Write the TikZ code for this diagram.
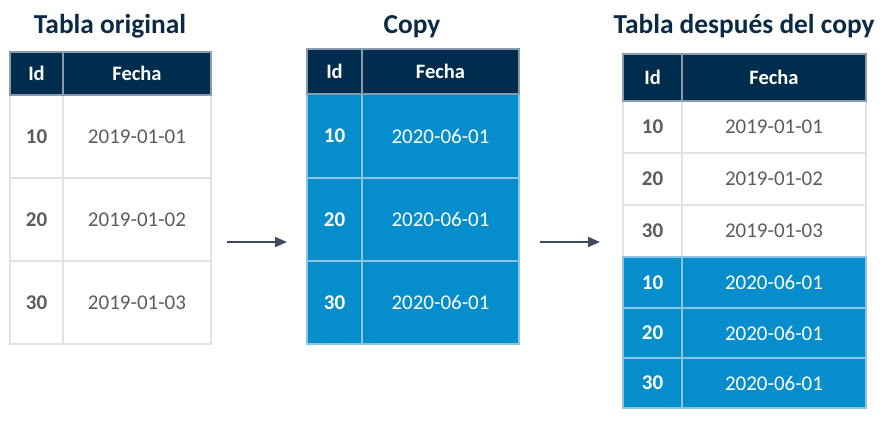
\documentclass[tikz,border=0pt]{standalone}
\usepackage{fontspec}
\setmainfont{Carlito}
\usetikzlibrary{arrows.meta}
\definecolor{navy}{HTML}{002D4D}
\definecolor{titlec}{HTML}{0B2A45}
\definecolor{cblue}{HTML}{058DCC}
\definecolor{bluegrid}{HTML}{8CC4E6}
\definecolor{grid}{HTML}{E2E2E2}
\definecolor{hgrid}{HTML}{8A9BAD}
\definecolor{txt}{HTML}{5C5C5C}
\definecolor{arr}{HTML}{3E4A5E}
\tikzset{
  x=1pt,y=-1pt,
  cell/.style={rectangle,inner sep=0pt,line width=1.3pt,font=\fontsize{21}{23}\selectfont},
  headcell/.style={cell,fill=navy,draw=hgrid,text=white,font=\fontsize{20.5}{22}\selectfont\bfseries},
  plainid/.style={cell,fill=white,draw=grid,text=txt,font=\fontsize{21}{23}\selectfont\bfseries},
  plaindate/.style={cell,fill=white,draw=grid,text=txt},
  blueid/.style={cell,fill=cblue,draw=bluegrid,text=white,font=\fontsize{21}{23}\selectfont\bfseries},
  bluedate/.style={cell,fill=cblue,draw=bluegrid,text=white},
  title/.style={text=titlec,font=\fontsize{27.4}{30}\selectfont\bfseries,anchor=base},
  flow/.style={draw=arr,line width=1.8pt,-{Triangle[length=12pt,width=10pt]}}
}
\newcommand{\mycell}[7]{\node[#1,minimum width=#4,minimum height=#5] (#2) at (#3,#6) {#7};}
\begin{document}
\begin{tikzpicture}
\useasboundingbox[fill=white] (0,0) rectangle (893,436);
% titles
\node[title] (t1) at (110,34) {Tabla original};
\node[title] (t2) at (412,34) {Copy};
\node[title] (t3) at (744,34) {Tabla después del copy};
% table 1
\mycell{plainid}{a1}{36.5}{53}{83}{136.5}{10}
\mycell{plaindate}{b1}{137}{148}{83}{136.5}{2019-01-01}
\mycell{plainid}{a2}{36.5}{53}{83}{219.5}{20}
\mycell{plaindate}{b2}{137}{148}{83}{219.5}{2019-01-02}
\mycell{plainid}{a3}{36.5}{53}{83}{302.5}{30}
\mycell{plaindate}{b3}{137}{148}{83}{302.5}{2019-01-03}
\mycell{headcell}{ah}{36.5}{53}{43}{73.5}{Id}
\mycell{headcell}{bh}{137}{148}{43}{73.5}{Fecha}
% table 2
\mycell{blueid}{c1}{334.5}{55}{84}{136}{10}
\mycell{bluedate}{d1}{440.5}{157}{84}{136}{2020-06-01}
\mycell{blueid}{c2}{334.5}{55}{83}{219.5}{20}
\mycell{bluedate}{d2}{440.5}{157}{83}{219.5}{2020-06-01}
\mycell{blueid}{c3}{334.5}{55}{83}{302.5}{30}
\mycell{bluedate}{d3}{440.5}{157}{83}{302.5}{2020-06-01}
\mycell{headcell}{ch}{334.5}{55}{45}{71.5}{Id}
\mycell{headcell}{dh}{440.5}{157}{45}{71.5}{Fecha}
% table 3
\mycell{plainid}{e1}{652.5}{59}{52}{127}{10}
\mycell{plaindate}{f1}{774}{184}{52}{127}{2019-01-01}
\mycell{plainid}{e2}{652.5}{59}{52}{179}{20}
\mycell{plaindate}{f2}{774}{184}{52}{179}{2019-01-02}
\mycell{plainid}{e3}{652.5}{59}{52}{231}{30}
\mycell{plaindate}{f3}{774}{184}{52}{231}{2019-01-03}
\mycell{blueid}{e4}{652.5}{59}{51}{282.5}{10}
\mycell{bluedate}{f4}{774}{184}{51}{282.5}{2020-06-01}
\mycell{blueid}{e5}{652.5}{59}{50}{333}{20}
\mycell{bluedate}{f5}{774}{184}{50}{333}{2020-06-01}
\mycell{blueid}{e6}{652.5}{59}{50}{383}{30}
\mycell{bluedate}{f6}{774}{184}{50}{383}{2020-06-01}
\mycell{headcell}{eh}{652.5}{59}{47}{77.5}{Id}
\mycell{headcell}{fh}{774}{184}{47}{77.5}{Fecha}
% arrows
\coordinate (p1) at (227,242);
\coordinate (q1) at (287,242);
\coordinate (p2) at (540,242);
\coordinate (q2) at (600,242);
\draw[flow] (p1) -- (q1);
\draw[flow] (p2) -- (q2);
\end{tikzpicture}
\end{document}
